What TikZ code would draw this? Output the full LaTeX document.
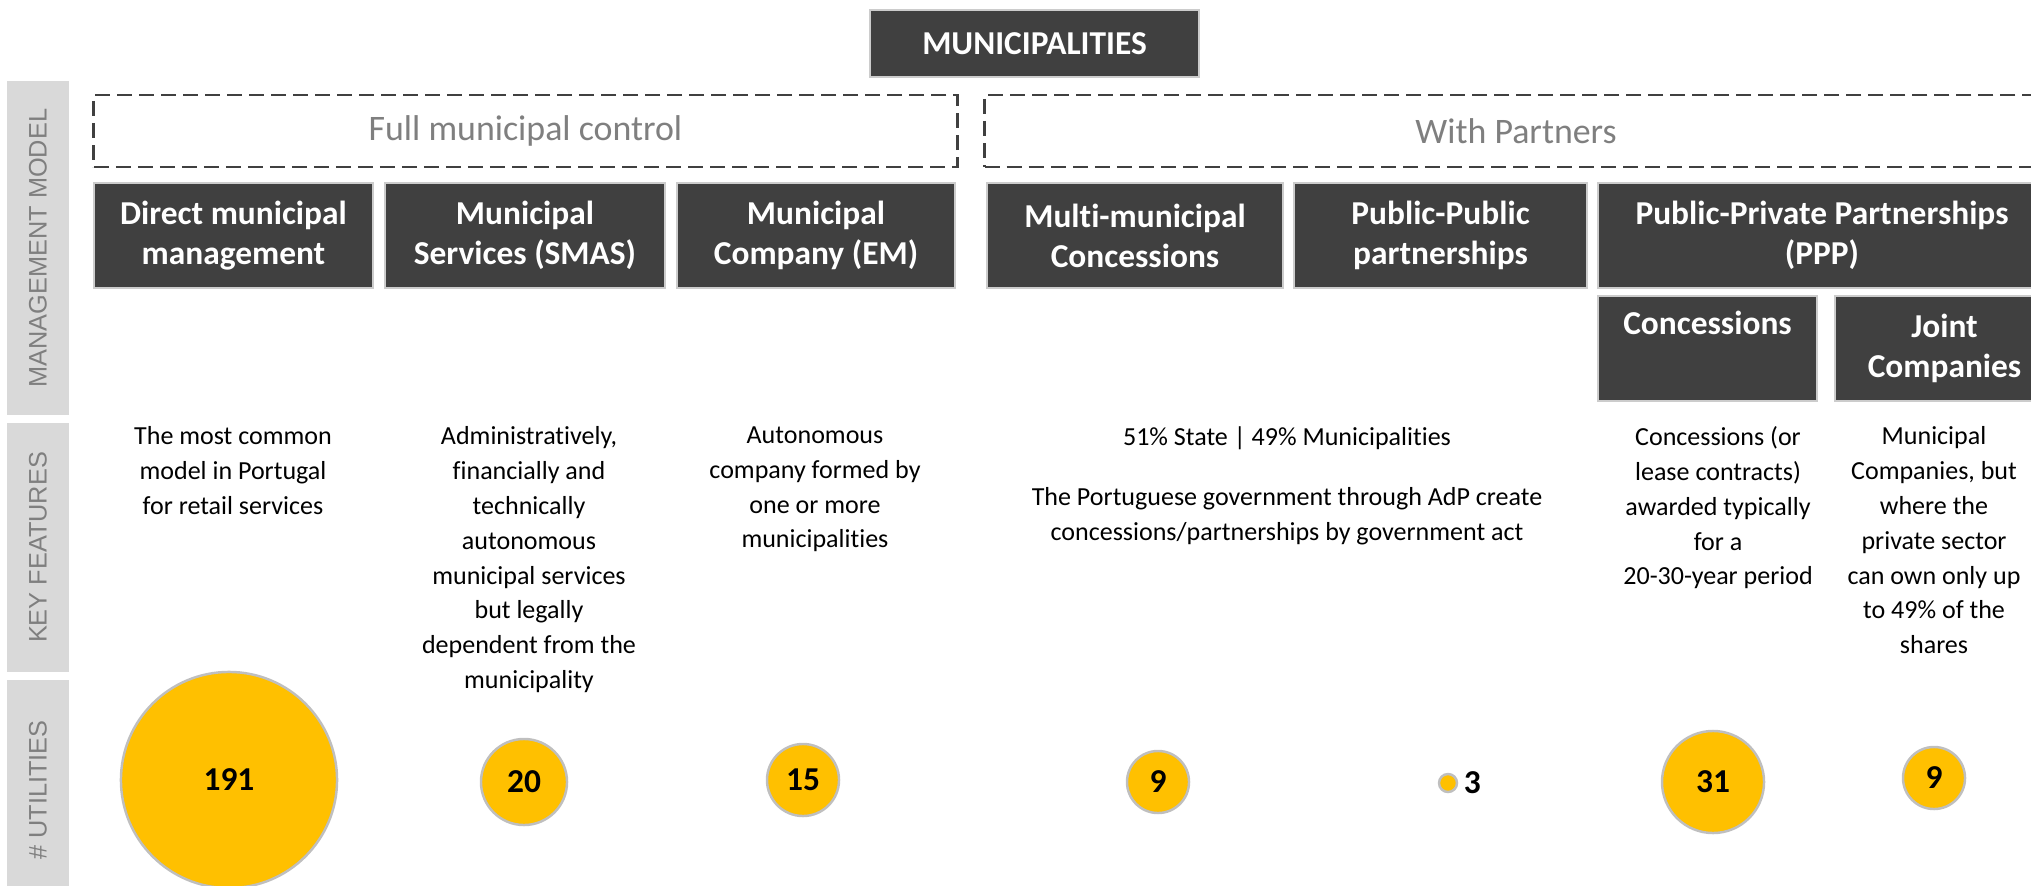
\documentclass[tikz,border=0pt]{standalone}
\usepackage{fontspec}
\setmainfont{Carlito}[Ligatures=NoCommon]
\newfontfamily\sidefont{Liberation Sans}
\usetikzlibrary{positioning}

\definecolor{boxgray}{HTML}{404040}
\definecolor{barfill}{HTML}{D9D9D9}
\definecolor{sidetext}{HTML}{7F7F7F}
\definecolor{bubgold}{HTML}{FFC000}
\definecolor{ringgray}{HTML}{BFBFBF}

\tikzset{
  mgmt/.style={fill=boxgray, draw=gray!40, line width=0.4pt, text=white,
    font=\fontsize{9.5}{11.4}\selectfont\bfseries, align=center, inner sep=0pt},
  group/.style={draw=boxgray, line width=0.8pt, dash pattern=on 0.15cm off 0.07cm,
    text=sidetext, font=\fontsize{10.2}{12}\selectfont, inner sep=0pt},
  feat/.style={font=\fontsize{7.4}{9.9}\selectfont, align=center, anchor=north, inner sep=0pt},
  bub/.style={circle, fill=bubgold, draw=ringgray, line width=0.7pt, inner sep=0pt,
    font=\fontsize{9.5}{11}\selectfont\bfseries},
  sidebar/.style={fill=barfill, rotate=90, minimum height=0.62cm, inner sep=0pt,
    text=sidetext, font=\sidefont\fontsize{7.2}{8}\selectfont}
}

\begin{document}
\begin{tikzpicture}[x=0.01cm, y=-0.01cm]
  \useasboundingbox (0,0) rectangle (2031,885);
  \clip (0,0) rectangle (2031,885);

  % Row labels on the left
  \node[sidebar, minimum width=3.34cm] (rowmm) at (38,248) {MANAGEMENT MODEL};
  \node[sidebar, minimum width=2.49cm] (rowkf) at (38,547.5) {KEY FEATURES};
  \node[sidebar, minimum width=2.20cm] (rowut) at (38,790) {\# UTILITIES};

  % Top box
  \node[mgmt, minimum width=3.29cm, minimum height=0.67cm] (muni) at (1034.5,43.5) {MUNICIPALITIES};

  % Dashed groups
  \node[group, minimum width=8.63cm, minimum height=0.72cm] (full) at (525.5,131) {Full municipal control};
  \node[group, minimum width=10.62cm, minimum height=0.72cm] (partners) at (1516,131) {With Partners};

  % Management models
  \node[mgmt, minimum width=2.79cm, minimum height=1.05cm] (direct) at (233.5,235.5) {Direct municipal\\management};
  \node[mgmt, minimum width=2.80cm, minimum height=1.05cm] (smas) at (525,235.5) {Municipal\\Services (SMAS)};
  \node[mgmt, minimum width=2.78cm, minimum height=1.05cm] (em) at (816,235.5) {Municipal\\Company (EM)};
  \node[mgmt, minimum width=2.96cm, minimum height=1.05cm] (multi) at (1135,235.5) {Multi-municipal\\Concessions};
  \node[mgmt, minimum width=2.93cm, minimum height=1.05cm] (pubpub) at (1440.5,235.5) {Public-Public\\partnerships};
  \node[mgmt, minimum width=4.48cm, minimum height=1.05cm] (ppp) at (1822,235.5) {Public-Private Partnerships\\(PPP)};
  \node[mgmt, minimum width=2.19cm, minimum height=1.05cm] (conc) at (1707.5,348.5) {Concessions\\\strut};
  \node[mgmt, minimum width=2.19cm, minimum height=1.05cm] (joint) at (1944.5,348.5) {Joint\\Companies};

  % Key features
  \node[feat] (fdirect) at (233,426) {The most common\\model in Portugal\\for retail services};
  \node[feat] (fsmas) at (529,426) {Administratively,\\financially and\\technically\\autonomous\\municipal services\\but legally\\dependent from the\\municipality};
  \node[feat] (fem) at (815,426) {Autonomous\\company formed by\\one or more\\municipalities};
  \node[feat] (fmulti) at (1287,426) {51\% State | 49\% Municipalities\\[0.25cm]The Portuguese government through AdP create\\concessions/partnerships by government act};
  \node[feat] (fconc) at (1718,426) {Concessions (or\\lease contracts)\\awarded typically\\for a\\20-30-year period};
  \node[feat] (fjoint) at (1934,426) {Municipal\\Companies, but\\where the\\private sector\\can own only up\\to 49\% of the\\shares};

  % Number of utilities
  \node[bub, minimum size=2.16cm] (udirect) at (229,780) {191};
  \node[bub, minimum size=0.86cm] (usmas) at (524,782) {20};
  \node[bub, minimum size=0.72cm] (uem) at (803,780) {15};
  \node[bub, minimum size=0.62cm] (umulti) at (1158,782) {9};
  \node[bub, minimum size=0.18cm] (upubpub) at (1448,783) {};
  \node[font=\fontsize{9.5}{11}\selectfont\bfseries, inner sep=0pt, right=0.05cm of upubpub] (npubpub) {3};
  \node[bub, minimum size=1.02cm] (uconc) at (1713,782) {31};
  \node[bub, minimum size=0.62cm] (ujoint) at (1934,778) {9};
\end{tikzpicture}
\end{document}
